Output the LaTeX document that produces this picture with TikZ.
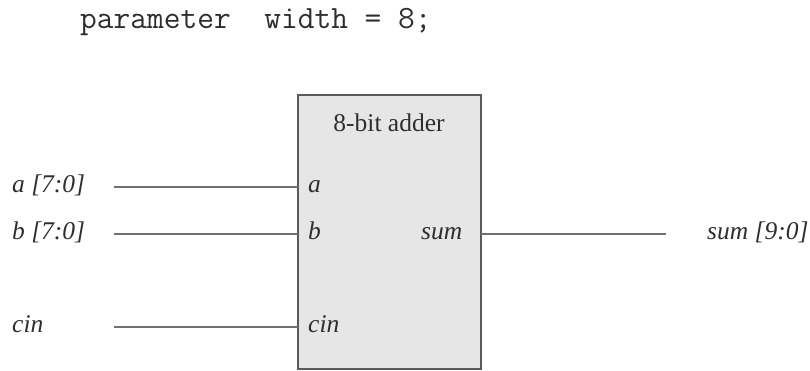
\documentclass[tikz,border=0pt]{standalone}
\usepackage{fontspec}
\setmainfont{Liberation Serif}
\begin{document}
\begin{tikzpicture}[x=1pt,y=-1pt,
  lbl/.style={inner sep=0pt,anchor=base west,text=txt,font=\fontsize{25.5}{30}\selectfont\itshape},
  wire/.style={draw=wirec,line width=2pt},
  blk/.style={draw=boxb,fill=boxf,line width=1.8pt}]
\definecolor{txt}{HTML}{2E2E2E}
\definecolor{wirec}{HTML}{707070}
\definecolor{boxb}{HTML}{5A5A5A}
\definecolor{boxf}{HTML}{E6E6E6}
\useasboundingbox (0,0) rectangle (810,371);
\node[inner sep=0pt,anchor=base west,text=txt,font=\fontsize{32.5}{36}\selectfont\ttfamily] (param) at (80,29) {parameter\ \ width = 8;};
\path[blk] (298,95) rectangle (481,369);
\coordinate (bnw) at (298,95);
\coordinate (bse) at (481,369);
\node[inner sep=0pt,anchor=base,text=txt,font=\fontsize{25.5}{30}\selectfont] (title) at (389,132) {8-bit adder};
% external labels
\node[lbl] (la) at (12,193) {a [7:0]};
\node[lbl] (lb) at (12,240) {b [7:0]};
\node[lbl] (lc) at (12,332) {cin};
\node[lbl] (ls) at (707,240) {sum [9:0]};
% port labels
\node[lbl] (pa) at (308,193) {a};
\node[lbl] (pb) at (308,240) {b};
\node[lbl] (pc) at (308,332) {cin};
\node[lbl] (ps) at (421,240) {sum};
% wires
\coordinate (wa) at (114,187);
\coordinate (wb) at (114,234);
\coordinate (wc) at (114,327);
\coordinate (ws) at (666,234);
\draw[wire] (wa) -- (wa -| bnw);
\draw[wire] (wb) -- (wb -| bnw);
\draw[wire] (wc) -- (wc -| bnw);
\draw[wire] (ws -| bse) -- (ws);
\end{tikzpicture}
\end{document}
